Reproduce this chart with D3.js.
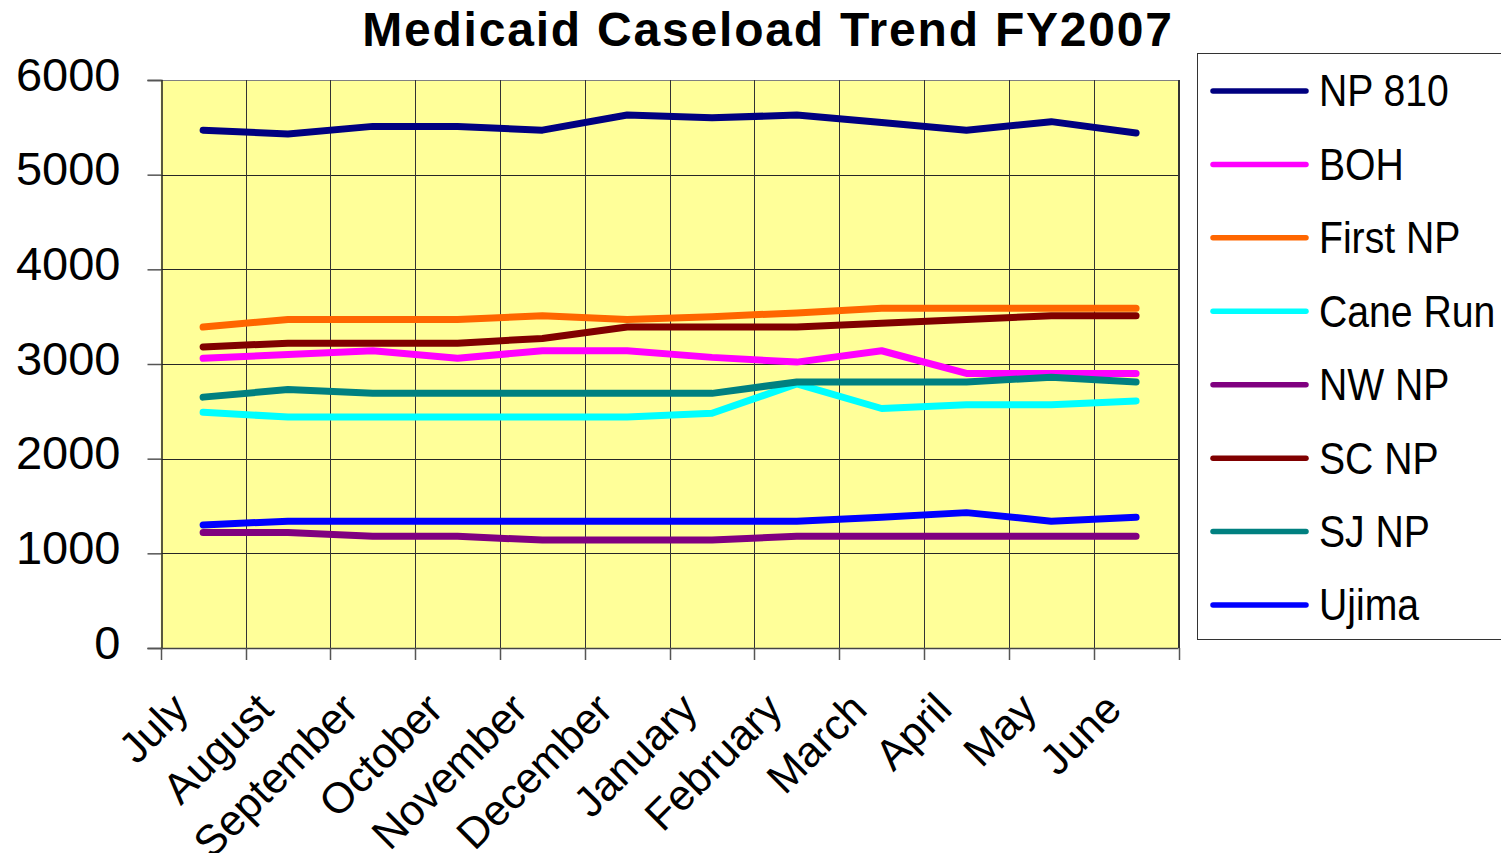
<!DOCTYPE html>
<html>
<head>
<meta charset="utf-8">
<script src="https://cdn.jsdelivr.net/npm/d3@7"></script>
<style>
  html, body { margin: 0; padding: 0; background: #fff; }
  svg { display: block; font-family: "Liberation Sans", Arial, sans-serif; }
</style>
</head>
<body>
<svg id="chart" width="1501" height="853"></svg>
<script>
// Monthly Medicaid caseload per site, fiscal year 2007
const months = ["July", "August", "September", "October", "November", "December",
                "January", "February", "March", "April", "May", "June"];

const np810   = [5470, 5430, 5510, 5510, 5470, 5630, 5600, 5630, 5550, 5470, 5560, 5440];
const boh     = [3060, 3100, 3140, 3060, 3140, 3140, 3070, 3020, 3140, 2900, 2900, 2900];
const firstNp = [3390, 3470, 3470, 3470, 3510, 3470, 3500, 3540, 3590, 3590, 3590, 3590];
const caneRun = [2490, 2440, 2440, 2440, 2440, 2440, 2480, 2790, 2530, 2570, 2570, 2610];
const nwNp    = [1220, 1220, 1180, 1180, 1140, 1140, 1140, 1180, 1180, 1180, 1180, 1180];
const scNp    = [3180, 3220, 3220, 3220, 3270, 3390, 3390, 3390, 3430, 3470, 3510, 3510];
const sjNp    = [2650, 2730, 2690, 2690, 2690, 2690, 2690, 2810, 2810, 2810, 2860, 2810];
const ujima   = [1300, 1340, 1340, 1340, 1340, 1340, 1340, 1340, 1380, 1430, 1340, 1380];

const seriesNames  = ["NP 810", "BOH", "First NP", "Cane Run", "NW NP", "SC NP", "SJ NP", "Ujima"];
const seriesValues = [np810, boh, firstNp, caneRun, nwNp, scNp, sjNp, ujima];
const seriesColors = ["#000080", "#FF00FF", "#FF6600", "#00FFFF", "#800080", "#800000", "#008080", "#0000FF"];

const yTicks = [0, 1000, 2000, 3000, 4000, 5000, 6000];

const svg = d3.select("#chart");
const plot = { left: 160.7, right: 1178.5, top: 80, bottom: 648 };

const x = d3.scaleBand().domain(months).range([plot.left, plot.right]).padding(0);
const y = d3.scaleLinear().domain([0, 6000]).range([plot.bottom, plot.top]);

// Plot background
svg.append("rect")
  .attr("x", plot.left).attr("y", plot.top)
  .attr("width", plot.right - plot.left).attr("height", plot.bottom - plot.top)
  .attr("fill", "#FFFF99");

// Horizontal gridlines
svg.append("g")
  .selectAll("line")
  .data(yTicks.filter(v => v > 0))
  .join("line")
  .attr("x1", plot.left).attr("x2", plot.right)
  .attr("y1", d => Math.round(y(d)) + 0.5).attr("y2", d => Math.round(y(d)) + 0.5)
  .attr("stroke", d => d === 6000 ? "#808080" : "#262626").attr("stroke-width", 1);

// Vertical gridlines at category boundaries
const boundaries = months.map(m => x(m)).concat([x(months[months.length - 1]) + x.step()]);
svg.append("g")
  .selectAll("line")
  .data(boundaries.slice(1))
  .join("line")
  .attr("x1", d => Math.round(d) + 0.5).attr("x2", d => Math.round(d) + 0.5)
  .attr("y1", plot.top).attr("y2", plot.bottom)
  .attr("stroke", "#333").attr("stroke-width", 1);

// Y axis
const yAxis = svg.append("g")
  .attr("transform", `translate(${Math.round(plot.left) + 0.5},0)`)
  .call(d3.axisLeft(y).tickValues(yTicks).tickSize(14).tickPadding(27).tickFormat(d3.format("d")));
yAxis.select(".domain").attr("stroke", "#222").attr("stroke-width", 1.5);
yAxis.selectAll(".tick line").attr("stroke", "#555").attr("stroke-width", 1.5);
yAxis.selectAll(".tick text")
  .attr("font-size", 47).attr("fill", "#000")
  .attr("font-family", "'Liberation Sans', Arial, sans-serif")
  .attr("dy", "0.32em").attr("y", -5);

// X axis line and boundary ticks
const xAxisG = svg.append("g");
xAxisG.append("line")
  .attr("x1", plot.left).attr("x2", plot.right)
  .attr("y1", plot.bottom + 0.5).attr("y2", plot.bottom + 0.5)
  .attr("stroke", "#444").attr("stroke-width", 1.5);
xAxisG.selectAll("line.tick")
  .data(boundaries)
  .join("line")
  .attr("class", "tick")
  .attr("x1", d => Math.round(d) + 0.5).attr("x2", d => Math.round(d) + 0.5)
  .attr("y1", plot.bottom).attr("y2", plot.bottom + 12)
  .attr("stroke", "#555").attr("stroke-width", 1.5);

// Right border of the plot area
svg.append("line")
  .attr("x1", plot.right).attr("x2", plot.right)
  .attr("y1", plot.top).attr("y2", plot.bottom)
  .attr("stroke", "#333").attr("stroke-width", 1);

// Rotated month labels
xAxisG.selectAll("text")
  .data(months)
  .join("text")
  .attr("transform", d => `translate(${x(d) + x.bandwidth() / 2 - 23},701) rotate(-45)`)
  .attr("text-anchor", "end")
  .attr("dominant-baseline", "central")
  .attr("font-size", 43)
  .attr("fill", "#000")
  .text(d => d);

// Series lines
const line = d3.line()
  .x((d, i) => x(months[i]) + x.bandwidth() / 2)
  .y(d => y(d));

svg.append("g")
  .selectAll("path")
  .data(seriesValues)
  .join("path")
  .attr("d", d => line(d))
  .attr("fill", "none")
  .attr("stroke", (d, i) => seriesColors[i])
  .attr("stroke-width", 7)
  .attr("stroke-linecap", "round")
  .attr("stroke-linejoin", "round");

// Title
svg.append("text")
  .attr("x", 768).attr("y", 46)
  .attr("text-anchor", "middle")
  .attr("font-size", 48)
  .attr("font-weight", "bold")
  .attr("letter-spacing", 1.8)
  .attr("fill", "#000")
  .text("Medicaid Caseload Trend FY2007");

// Legend
const legend = svg.append("g");
legend.append("rect")
  .attr("x", 1197.5).attr("y", 53.5)
  .attr("width", 320).attr("height", 586)
  .attr("fill", "#fff").attr("stroke", "#333").attr("stroke-width", 1);

const legendY = d3.scalePoint().domain(seriesNames).range([91, 605]);
const items = legend.selectAll("g.item")
  .data(seriesNames)
  .join("g")
  .attr("class", "item")
  .attr("transform", d => `translate(0,${legendY(d)})`);
items.append("line")
  .attr("x1", 1213).attr("x2", 1306)
  .attr("stroke", (d, i) => seriesColors[i])
  .attr("stroke-width", 5.5)
  .attr("stroke-linecap", "round");
items.append("text")
  .attr("x", 1319)
  .attr("dy", "0.35em")
  .attr("font-size", 44)
  .attr("fill", "#000")
  .attr("transform", "translate(1319,0) scale(0.89,1) translate(-1319,0)")
  .text(d => d);
</script>
</body>
</html>
